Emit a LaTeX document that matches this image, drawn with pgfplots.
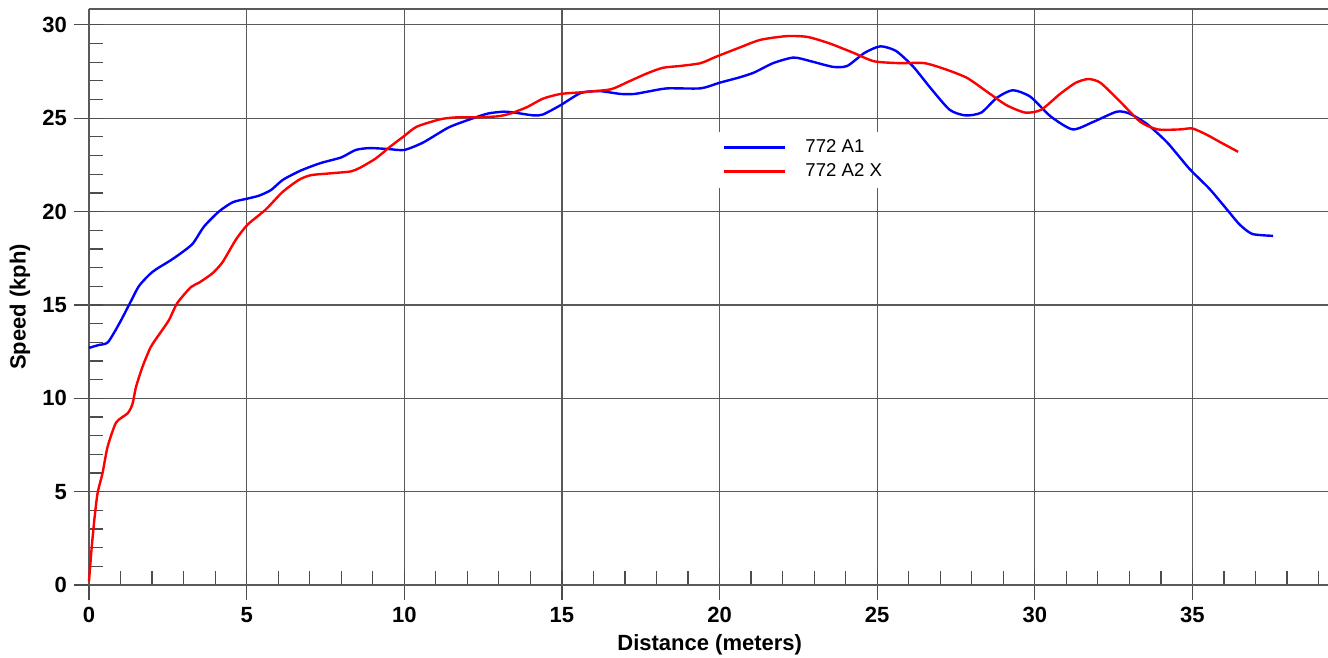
\documentclass[border=0pt]{standalone}
\usepackage{fontspec}
\setmainfont{Liberation Sans}
\usepackage{pgfplots}
\pgfplotsset{compat=1.18}
\usepackage{pgfplotstable}

% Run 772 A1: distance (m), speed (kph)
\pgfplotstableread{
x y
0 12.7
0.3 12.85
0.6 13.0
0.96 14.0
1.3 15.1
1.58 16.0
1.9 16.6
2.12 16.9
2.6 17.4
2.98 17.85
3.3 18.3
3.65 19.2
4.12 20.0
4.56 20.5
5.04 20.7
5.39 20.85
5.77 21.15
6.15 21.7
6.72 22.2
7.35 22.6
8.0 22.9
8.46 23.3
8.9 23.4
9.5 23.35
10.0 23.3
10.6 23.7
11.4 24.5
12.1 24.95
12.65 25.25
13.15 25.35
13.5 25.3
14.1 25.15
14.4 25.2
14.96 25.7
15.6 26.35
16.2 26.45
16.86 26.3
17.3 26.3
17.8 26.45
18.35 26.6
19.4 26.6
20.0 26.9
20.66 27.2
21.1 27.45
21.7 27.95
22.35 28.25
22.9 28.05
23.6 27.75
24.05 27.8
24.6 28.5
25.1 28.85
25.6 28.6
26.15 27.75
26.7 26.6
27.3 25.45
27.8 25.15
28.3 25.3
28.8 26.1
29.3 26.5
29.86 26.15
30.5 25.1
31.2 24.4
31.85 24.8
32.6 25.35
33.0 25.25
33.55 24.7
34.2 23.7
34.9 22.3
35.55 21.2
36.1 20.1
36.5 19.3
36.9 18.8
37.56 18.7
}\runone

% Run 772 A2 X: distance (m), speed (kph)
\pgfplotstableread{
x y
0 0.2
0.08 1.9
0.17 3.5
0.27 4.9
0.43 6.0
0.59 7.4
0.86 8.7
1.23 9.2
1.38 9.7
1.49 10.6
1.7 11.7
1.96 12.75
2.28 13.55
2.54 14.2
2.8 15.1
3.23 15.95
3.5 16.2
3.92 16.7
4.24 17.3
4.66 18.5
5.03 19.3
5.6 20.1
6.14 21.05
6.66 21.7
7.04 21.95
7.67 22.05
8.3 22.15
8.6 22.35
9.1 22.85
9.57 23.5
10.0 24.05
10.4 24.55
11.16 24.95
11.7 25.05
12.3 25.05
12.95 25.1
13.37 25.25
13.9 25.6
14.4 26.05
14.96 26.3
15.7 26.4
16.55 26.55
17.1 26.95
17.7 27.4
18.2 27.7
18.76 27.8
19.4 27.95
19.9 28.3
20.66 28.8
21.3 29.2
22.15 29.4
22.8 29.35
23.5 29.0
24.25 28.5
24.9 28.05
25.7 27.95
26.5 27.95
27.2 27.6
27.86 27.15
28.5 26.4
29.1 25.7
29.7 25.3
30.2 25.45
30.8 26.3
31.3 26.9
31.7 27.1
32.08 26.9
32.7 25.9
33.35 24.8
33.9 24.4
34.6 24.4
35.0 24.45
35.47 24.1
35.9 23.7
36.45 23.2
}\runtwo

\begin{document}
\begin{tikzpicture}
\useasboundingbox (-44.5pt,-36.5pt) rectangle (619.5pt,292.5pt);
\begin{axis}[
  at={(0,0)}, anchor=south west,
  scale only axis, width=619.5pt, height=288pt,
  xmin=0, xmax=39.3, ymin=0, ymax=30.85,
  axis x line*=bottom, axis y line*=left,
  axis line style={black!65, line width=0.6pt},
  xtick={0,5,...,35}, ytick={0,5,...,30},
  minor xtick={1,...,39}, minor ytick={1,...,30},
  grid=major,
  major grid style={black!65, line width=0.6pt},
  tick align=outside,
  major tick length=7.5pt, minor tick length=7pt,
  tick style={black!70, line width=0.6pt},
  minor x tick style={yshift=7pt},
  minor y tick style={xshift=7pt},
  /pgf/number format/assume math mode=true,
  ticklabel style={font=\bfseries\fontsize{11}{13}\selectfont},
  xlabel={Distance (meters)}, ylabel={Speed (kph)},
  every axis x label/.style={at={([yshift=-30pt]axis description cs:0.501,0)}, anchor=center,
    font=\bfseries\fontsize{11}{13}\selectfont},
  every axis y label/.style={at={([xshift=-34.5pt]axis description cs:0,0.483)}, rotate=90, anchor=center,
    font=\bfseries\fontsize{11}{13}\selectfont},
  clip=false,
  legend cell align=left,
  legend image code/.code={\draw[#1, line width=1.1pt] (0pt,0pt) -- (30.5pt,0pt); \path[draw=none] (0pt,0pt) -- (38.5pt,0pt);},
  legend style={at={(0.506,0.788)}, anchor=north west, draw=none, fill=white,
    inner xsep=3.5pt, inner ysep=2pt, row sep=0pt,
    font=\fontsize{9.3}{11}\selectfont,
    nodes={text height=7pt, text depth=2pt, inner ysep=1.5pt}},
]
\addplot[blue, line width=1.2pt, smooth, tension=0.4] table[x=x, y=y] {\runone};
\addlegendentry{772 A1}
\addplot[red, line width=1.2pt, smooth, tension=0.4] table[x=x, y=y] {\runtwo};
\addlegendentry{772 A2 X}
\draw[black!65, line width=0.6pt] (rel axis cs:0,1) -- (rel axis cs:1,1);
\end{axis}
\end{tikzpicture}
\end{document}
